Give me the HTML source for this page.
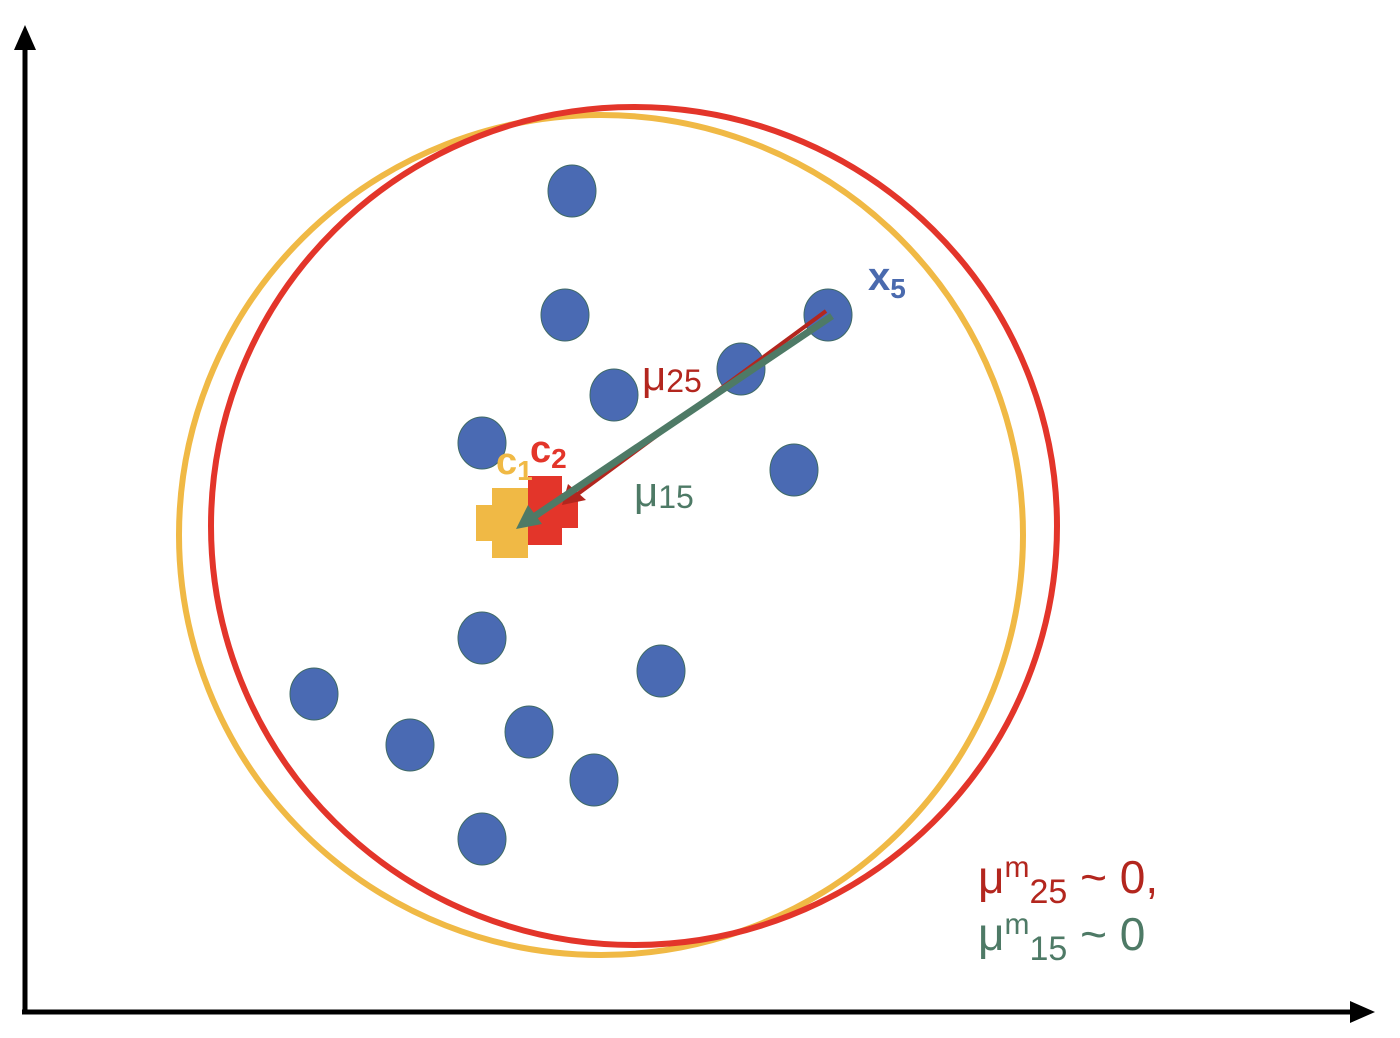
<!DOCTYPE html>
<html><head><meta charset="utf-8"><style>
html,body{margin:0;padding:0;background:#fff;}
svg{display:block;font-family:"Liberation Sans",sans-serif;}
</style></head><body>
<svg id="chart" width="1400" height="1038" viewBox="0 0 1400 1038">
<g>
<line x1="25" y1="1012" x2="25" y2="45" stroke="#000" stroke-width="5"/>
<polygon points="14,50 25,25 36,50" fill="#000"/>
<line x1="22" y1="1012" x2="1355" y2="1012" stroke="#000" stroke-width="5"/>
<polygon points="1350,1001 1375,1012 1350,1023" fill="#000"/>
</g>
<ellipse cx="601" cy="535" rx="422" ry="420" fill="none" stroke="#f0b945" stroke-width="6"/>
<ellipse cx="634" cy="526" rx="423" ry="419" fill="none" stroke="#e3352a" stroke-width="6"/>
<g id="pts"></g>
<g>
<rect x="492" y="488" width="36" height="70" fill="#f0b945"/>
<rect x="476" y="505" width="69" height="36" fill="#f0b945"/>
</g>
<g>
<rect x="528" y="476" width="34" height="69" fill="#e3352a"/>
<rect x="545" y="493" width="33" height="35" fill="#e3352a"/>
</g>
<line x1="826" y1="311" x2="575" y2="496" stroke="#b3261e" stroke-width="4"/>
<polygon points="562,505 568,484 586,500" fill="#b3261e"/>
<line x1="832" y1="316" x2="535" y2="516" stroke="#4e7a66" stroke-width="7"/>
<polygon points="516,529 528,505 542,524" fill="#4e7a66"/>
<text x="868" y="290" fill="#4a6aae" font-size="40" font-weight="bold">x<tspan font-size="28" dy="8">5</tspan></text>
<text x="642" y="390" fill="#b3261e" font-size="42">μ<tspan font-size="32" dy="2">25</tspan></text>
<text x="634" y="506" fill="#4e7a66" font-size="42">μ<tspan font-size="32" dy="2">15</tspan></text>
<text x="496" y="474" fill="#f0b945" font-size="38" font-weight="bold">c<tspan font-size="28" dy="6">1</tspan></text>
<text x="530" y="462" fill="#e3352a" font-size="38" font-weight="bold">c<tspan font-size="28" dy="6">2</tspan></text>
<text x="978" y="893" fill="#b3261e" font-size="46">μ<tspan font-size="30" dy="-16">m</tspan><tspan font-size="34" dy="26">25</tspan><tspan dy="-10"> ~ 0,</tspan></text>
<text x="978" y="950" fill="#4e7a66" font-size="46">μ<tspan font-size="30" dy="-16">m</tspan><tspan font-size="34" dy="26">15</tspan><tspan dy="-10"> ~ 0</tspan></text>
</svg>
<script>
const xs = [572,565,614,741,828,482,794,482,661,314,410,529,594,482];
const ys = [191,315,395,369,315,443,470,638,671,694,745,732,780,839];
const g = document.getElementById('pts');
const NS = 'http://www.w3.org/2000/svg';
for (let i = 0; i < xs.length; i++) {
  const e = document.createElementNS(NS, 'ellipse');
  e.setAttribute('cx', xs[i]); e.setAttribute('cy', ys[i]);
  e.setAttribute('rx', 24); e.setAttribute('ry', 26);
  e.setAttribute('fill', '#4a6ab3'); e.setAttribute('stroke', '#3f6a66'); e.setAttribute('stroke-width', 1);
  
  
  g.appendChild(e);
}
</script>
</body></html>
